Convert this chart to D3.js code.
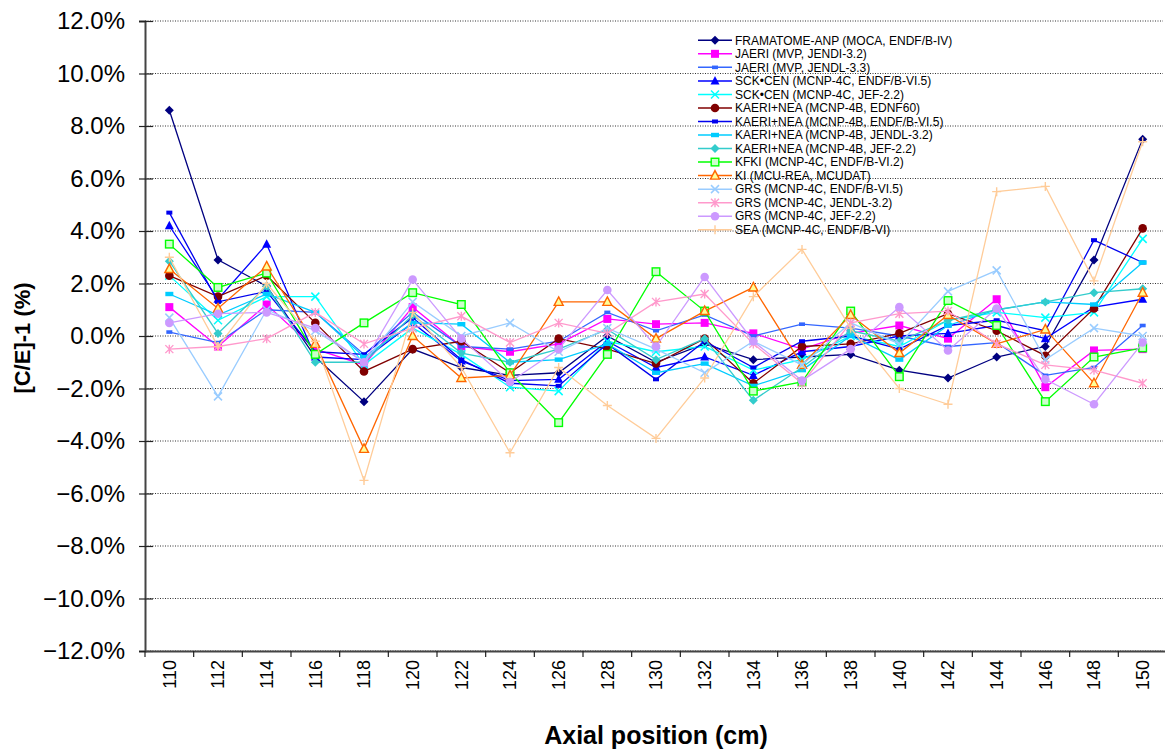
<!DOCTYPE html>
<html><head><meta charset="utf-8">
<script src="https://cdn.jsdelivr.net/npm/d3@7/dist/d3.min.js"></script>
<style>
html,body{margin:0;padding:0;background:#fff;}
svg{display:block;font-family:Arial,"Liberation Sans",sans-serif;}
</style></head>
<body><svg id="chart" width="1165" height="751"></svg>
<script>
// ---------- DATA ----------
const positions = [110,112,114,116,118,120,122,124,126,128,130,132,134,136,138,140,142,144,146,148,150];
const yTicks = [-12,-10,-8,-6,-4,-2,0,2,4,6,8,10,12];

const seriesNames = [
  "FRAMATOME-ANP (MOCA, ENDF/B-IV)",
  "JAERI (MVP, JENDI-3.2)",
  "JAERI (MVP, JENDL-3.3)",
  "SCK\u2022CEN (MCNP-4C, ENDF/B-VI.5)",
  "SCK\u2022CEN (MCNP-4C, JEF-2.2)",
  "KAERI+NEA (MCNP-4B, EDNF60)",
  "KAERI+NEA (MCNP-4B, ENDF/B-VI.5)",
  "KAERI+NEA (MCNP-4B, JENDL-3.2)",
  "KAERI+NEA (MCNP-4B, JEF-2.2)",
  "KFKI (MCNP-4C, ENDF/B-VI.2)",
  "KI (MCU-REA, MCUDAT)",
  "GRS (MCNP-4C, ENDF/B-VI.5)",
  "GRS (MCNP-4C, JENDL-3.2)",
  "GRS (MCNP-4C, JEF-2.2)",
  "SEA (MCNP-4C, ENDF/B-VI)"
];

const framatome   = [8.6, 2.9, 1.9,-0.8,-2.5,-0.5,-1.2,-1.5,-1.4, 0.0,-1.0,-0.3,-0.9,-0.8,-0.7,-1.3,-1.6,-0.8,-0.4, 2.9, 7.5];
const jaeriJ32    = [1.1,-0.4, 1.2,-0.5,-1.1, 1.1,-0.4,-0.6,-0.3, 0.65,0.45,0.5, 0.1,-0.5, 0.1, 0.4,-0.1, 1.4,-1.95,-0.55,-0.5];
const jaeriJ33    = [0.15,-0.25,1.0, 0.9,-0.7, 0.9,-0.4,-0.5,-0.2, 0.9, 0.2, 0.8, 0.0, 0.45,0.3, 0.0,-0.4,-0.25,-1.5,-1.2, 0.4];
const sckEndf     = [4.2, 1.4, 3.5,-0.8,-0.9, 0.5,-0.95,-1.7,-1.65,-0.2,-1.2,-0.8,-1.5,-0.6,-0.4, 0.0, 0.1, 0.4,-0.1, 1.1, 1.4];
const sckJef      = [2.3, 0.6, 1.5, 1.5,-1.1, 0.3,-0.7,-1.95,-2.1,-0.2,-0.6,-0.4,-1.3,-0.9, 0.0,-0.4, 0.6, 0.9, 0.7, 0.9, 3.7];
const kaeriEdnf   = [2.3, 1.5, 2.3, 0.5,-1.35,-0.5,-0.2,-1.4,-0.1,-0.5,-1.05,-0.1,-1.8,-0.4,-0.3, 0.1, 0.85,0.2,-0.75,1.05,4.1];
const kaeriEndf   = [4.7, 1.3, 1.7,-0.6,-0.7, 0.7,-0.9,-1.8,-1.9,-0.3,-1.65,-0.2,-1.2,-0.2, 0.0,-0.5, 0.4, 0.6, 0.2, 3.65,2.8];
const kaeriJendl  = [1.6, 0.8, 1.6, 0.9,-0.8, 0.5, 0.45,-1.0,-0.9,-0.3,-1.4,-1.05,-1.9,-1.3, 0.0,-0.9, 0.4, 1.0, 1.3, 1.2, 2.8];
const kaeriJef    = [2.85,0.1, 1.9,-1.0,-1.0, 0.8,-0.65,-1.0,-0.5, 0.25,-0.9,-0.1,-2.45,-1.2,0.2,-0.2, 0.6, 1.0, 1.3, 1.65,1.8];
const kfki        = [3.5, 1.85,2.4,-0.7, 0.5, 1.65,1.2,-1.4,-3.3,-0.7, 2.45,0.95,-2.1,-1.75,0.95,-1.55,1.35,0.4,-2.5,-0.8,-0.45];
const ki          = [2.55,1.05,2.65,-0.3,-4.3, 0.0,-1.6,-1.5, 1.3, 1.3,-0.1, 0.95,1.85,-1.1, 0.8,-0.65,0.8,-0.3, 0.25,-1.8, 1.65];
const grsEndf     = [0.7,-2.3, 1.0, 0.2,-1.0, 1.3, 0.0, 0.5,-0.6, 0.3,-0.5,-1.4,-0.2,-1.1, 0.5,-0.3, 1.7, 2.5,-0.9, 0.3, 0.0];
const grsJendl    = [-0.5,-0.4,-0.1,0.9,-0.3, 0.3, 0.75,-0.25,0.5,0.1, 1.3, 1.6,-0.3,-1.8, 0.5, 0.85,0.95,-0.3,-1.1,-1.3,-1.8];
const grsJef      = [0.5, 0.85,0.9, 0.3,-1.0, 2.15,-0.1,-1.75,-0.5,1.75,-0.4, 2.25,-0.2,-1.7,-0.5,1.1,-0.55,1.05,-1.65,-2.6,-0.25];
const sea         = [3.0,-0.4, 2.0,-0.2,-5.5, 0.9,-1.2,-4.45,-1.2,-2.65,-3.9,-1.6,1.5, 3.3, 0.3,-2.0,-2.6, 5.5, 5.7, 2.1, 7.4];

const seriesValues = [framatome, jaeriJ32, jaeriJ33, sckEndf, sckJef, kaeriEdnf, kaeriEndf,
  kaeriJendl, kaeriJef, kfki, ki, grsEndf, grsJendl, grsJef, sea];

// ---------- STYLES ----------
const styles = [
  {color:"#000080", marker:"diamond"},
  {color:"#FF00FF", marker:"square"},
  {color:"#3366FF", marker:"dash"},
  {color:"#0000FF", marker:"triangle"},
  {color:"#00FFFF", marker:"x"},
  {color:"#800000", marker:"circle"},
  {color:"#0000EE", marker:"dash2"},
  {color:"#00CCFF", marker:"rect"},
  {color:"#33CCCC", marker:"diamond"},
  {color:"#00FF00", marker:"hsquare", fill:"#CCFFCC"},
  {color:"#FF6600", marker:"htriangle", fill:"#FFFF99"},
  {color:"#99CCFF", marker:"x"},
  {color:"#FF99CC", marker:"asterisk"},
  {color:"#CC99FF", marker:"circle"},
  {color:"#FFCC99", marker:"plus"}
];

const svg = d3.select("#chart");
const M = {left:145, right:1167, top:21, bottom:651};

const x = d3.scaleBand().domain(positions).range([M.left, M.right]);
const xc = v => x(v) + x.bandwidth()/2;
const y = d3.scaleLinear().domain([-12,12]).range([M.bottom, M.top]);

// gridlines
svg.append("g").selectAll("line").data(yTicks).join("line")
  .attr("x1", M.left).attr("x2", 1163)
  .attr("y1", d => y(d)).attr("y2", d => y(d))
  .attr("stroke", "#333").attr("stroke-width", 1).attr("stroke-dasharray", "1,1.5");

// y axis
const yAxis = d3.axisLeft(y).tickValues(yTicks).tickSize(6).tickPadding(14)
  .tickFormat(d => d3.format(".1f")(d) + "%");
const gy = svg.append("g").attr("transform", `translate(${M.left},0)`).call(yAxis);
gy.select(".domain").attr("stroke", "#444").attr("stroke-width", 2);
gy.selectAll(".tick line").attr("stroke", "#222").attr("stroke-width", 1.2).attr("x2", -6).attr("x1", 8);
gy.selectAll(".tick text").attr("font-size", 24).attr("fill", "#000").attr("font-family", "Arial, 'Liberation Sans', sans-serif");

// x axis
const xAxis = d3.axisBottom(x).tickSize(0).tickPadding(0);
const gx = svg.append("g").attr("transform", `translate(0,${M.bottom})`).call(xAxis);
gx.select(".domain").attr("stroke", "#444").attr("stroke-width", 2);
gx.selectAll(".tick text")
  .attr("font-size", 18).attr("fill", "#000").attr("font-family", "Arial, 'Liberation Sans', sans-serif")
  .attr("transform", "rotate(-90)")
  .attr("text-anchor", "end").attr("x", -9).attr("y", 0).attr("dy", "0.35em");
// band-boundary tick marks
svg.append("g").selectAll("line").data(positions.concat([null])).join("line")
  .attr("x1", (d,i) => M.left + i*x.step()).attr("x2", (d,i) => M.left + i*x.step())
  .attr("y1", M.bottom).attr("y2", M.bottom + 6)
  .attr("stroke", "#222").attr("stroke-width", 1.2);

// axis titles
svg.append("text").attr("x", 656).attr("y", 744).attr("text-anchor", "middle")
  .attr("font-size", 25).attr("font-weight", "bold").text("Axial position (cm)");
svg.append("text").attr("transform", "translate(30,338) rotate(-90)").attr("text-anchor", "middle")
  .attr("font-size", 22).attr("font-weight", "bold").text("[C/E]-1 (%)");

// markers
function drawMarker(g, st) {
  const c = st.color;
  switch (st.marker) {
    case "diamond": g.append("path").attr("d", "M0,-4.5L4.5,0L0,4.5L-4.5,0Z").attr("fill", c); break;
    case "square": g.append("rect").attr("x",-4).attr("y",-4).attr("width",8).attr("height",8).attr("fill", c); break;
    case "dash": g.append("rect").attr("x",-3).attr("y",-1.8).attr("width",6).attr("height",3.6).attr("fill", c); break;
    case "dash2": g.append("rect").attr("x",-3).attr("y",-2).attr("width",6).attr("height",4).attr("fill", c); break;
    case "rect": g.append("rect").attr("x",-4).attr("y",-2.2).attr("width",8).attr("height",4.4).attr("fill", c); break;
    case "triangle": g.append("path").attr("d", "M0,-5L4.5,3.5L-4.5,3.5Z").attr("fill", c); break;
    case "htriangle": g.append("path").attr("d", "M0,-5L4.5,3.5L-4.5,3.5Z").attr("fill", st.fill).attr("stroke", c).attr("stroke-width", 1.4); break;
    case "hsquare": g.append("rect").attr("x",-3.8).attr("y",-3.8).attr("width",7.6).attr("height",7.6).attr("fill", st.fill).attr("stroke", c).attr("stroke-width", 1.4); break;
    case "circle": g.append("circle").attr("r", 4.3).attr("fill", c); break;
    case "x": g.append("path").attr("d", "M-4,-4L4,4M-4,4L4,-4").attr("stroke", c).attr("stroke-width", 1.5).attr("fill","none"); break;
    case "asterisk": g.append("path").attr("d", "M-4,-4L4,4M-4,4L4,-4M0,-4.5L0,4.5").attr("stroke", c).attr("stroke-width", 1.4).attr("fill","none"); break;
    case "plus": g.append("path").attr("d", "M-4.5,0L4.5,0M0,-4.5L0,4.5").attr("stroke", c).attr("stroke-width", 1.4).attr("fill","none"); break;
  }
}

const line = d3.line().x(d => xc(d.p)).y(d => y(d.v));

seriesValues.forEach((vals, i) => {
  const st = styles[i];
  const data = positions.map((p, j) => ({p, v: vals[j]}));
  const g = svg.append("g");
  g.append("path").datum(data).attr("d", line)
    .attr("fill", "none").attr("stroke", st.color).attr("stroke-width", 1.3);
  g.selectAll("g.m").data(data).join("g").attr("class", "m")
    .attr("transform", d => `translate(${xc(d.p)},${y(d.v)})`)
    .each(function(){ drawMarker(d3.select(this), st); });
});

// legend
const lg = svg.append("g");
seriesNames.forEach((name, i) => {
  const st = styles[i];
  const yy = 40.3 + i * 13.53;
  const row = lg.append("g");
  row.append("line").attr("x1", 698).attr("x2", 732).attr("y1", yy).attr("y2", yy)
    .attr("stroke", st.color).attr("stroke-width", 1.5);
  drawMarker(row.append("g").attr("transform", `translate(715,${yy})`), st);
  row.append("text").attr("x", 735).attr("y", yy + 4.2).attr("font-size", 12).attr("fill", "#000").text(name);
});
</script></body></html>
